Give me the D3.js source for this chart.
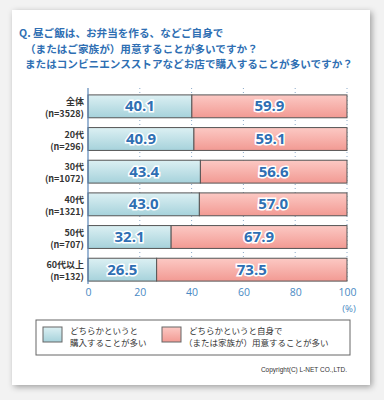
<!DOCTYPE html>
<html>
<head>
<meta charset="utf-8">
<script src="https://cdn.jsdelivr.net/npm/d3@7"></script>
<style>
  body { margin: 0; background: #f4f4f4; }
  svg { display: block; }
</style>
</head>
<body>
<svg id="chart" width="384" height="400"></svg>
<script>
// data
const groups = ["全体", "20代", "30代", "40代", "50代", "60代以上"];
const counts = ["(n=3528)", "(n=296)", "(n=1072)", "(n=1321)", "(n=707)", "(n=132)"];
const buy = [40.1, 40.9, 43.4, 43.0, 32.1, 26.5];
const self = [59.9, 59.1, 56.6, 57.0, 67.9, 73.5];
const ticks = [0, 20, 40, 60, 80, 100];
const titleLines = [
  "Q. 昼ご飯は、お弁当を作る、などご自身で",
  "（またはご家族が）用意することが多いですか？",
  "またはコンビニエンスストアなどお店で購入することが多いですか？"
];
const legendBuy = ["どちらかというと", "購入することが多い"];
const legendSelf = ["どちらかというと自身で", "（または家族が）用意することが多い"];

const font = "'Noto Sans CJK JP', 'Noto Sans', sans-serif";
const blue = "#2f6fb3";

const svg = d3.select("#chart");
const defs = svg.append("defs");

// shadow for the card
const f = defs.append("filter").attr("id", "sh").attr("x", "-10%").attr("y", "-10%").attr("width", "120%").attr("height", "120%");
f.append("feDropShadow").attr("dx", 2).attr("dy", 2).attr("stdDeviation", 3).attr("flood-color", "#000").attr("flood-opacity", 0.35);

function grad(id, c1, c2) {
  const g = defs.append("linearGradient").attr("id", id).attr("x1", 0).attr("y1", 0).attr("x2", 0).attr("y2", 1);
  g.append("stop").attr("offset", "0%").attr("stop-color", c1);
  g.append("stop").attr("offset", "100%").attr("stop-color", c2);
}
grad("gBlue", "#dcf0f3", "#a6d2db");
grad("gPink", "#fcc9c4", "#f29a93");

svg.append("rect").attr("x", 0).attr("y", 0).attr("width", 384).attr("height", 400).attr("fill", "#f2f2f2");
svg.append("rect")
  .attr("x", 12).attr("y", 10).attr("width", 358).attr("height", 375)
  .attr("fill", "#fff").attr("filter", "url(#sh)");

// title
svg.append("g").selectAll("text")
  .data(titleLines)
  .enter().append("text")
  .attr("x", (d, i) => i == 0 ? 19 : 25)
  .attr("y", (d, i) => 37 + i * 15.5)
  .attr("font-family", font).attr("font-size", 10.6).attr("font-weight", "bold")
  .attr("fill", blue)
  .text(d => d);

const x = d3.scaleLinear().domain([0, 100]).range([88, 347]);
const y = d3.scaleBand().domain(groups).range([90, 286]).paddingInner(0.3).paddingOuter(0.15);

// grid
svg.append("g").selectAll("line")
  .data(ticks.slice(1))
  .enter().append("line")
  .attr("x1", d => x(d)).attr("x2", d => x(d))
  .attr("y1", 88).attr("y2", 284)
  .attr("stroke", "#8aa9c8").attr("stroke-width", 1).attr("stroke-dasharray", "1,3");

// bars
const row = svg.append("g").selectAll("g")
  .data(groups)
  .enter().append("g");

row.append("rect")
  .attr("x", x(0))
  .attr("y", d => y(d))
  .attr("width", (d, i) => x(buy[i]) - x(0))
  .attr("height", y.bandwidth())
  .attr("fill", "url(#gBlue)").attr("stroke", "#555").attr("stroke-width", 1);

row.append("rect")
  .attr("x", (d, i) => x(buy[i]))
  .attr("y", d => y(d))
  .attr("width", (d, i) => x(100) - x(buy[i]))
  .attr("height", y.bandwidth())
  .attr("fill", "url(#gPink)").attr("stroke", "#555").attr("stroke-width", 1);

function valueText(sel, xf, vals) {
  sel.append("text")
    .attr("x", xf)
    .attr("y", d => y(d) + y.bandwidth() / 2 + 5)
    .attr("text-anchor", "middle")
    .attr("font-family", "'Open Sans', sans-serif").attr("font-size", 15).attr("font-weight", "bold")
    .attr("fill", blue).attr("stroke", "#fff").attr("stroke-width", 3).attr("paint-order", "stroke")
    .text((d, i) => vals[i].toFixed(1));
}
valueText(row, (d, i) => (x(0) + x(buy[i])) / 2, buy);
valueText(row, (d, i) => (x(buy[i]) + x(100)) / 2, self);

// category labels
row.append("text")
  .attr("x", 84).attr("y", d => y(d) + 10)
  .attr("text-anchor", "end")
  .attr("font-family", font).attr("font-size", 9).attr("font-weight", "bold").attr("fill", "#333")
  .text(d => d);
row.append("text")
  .attr("x", 84).attr("y", (d, i) => y(d) + 22)
  .attr("text-anchor", "end")
  .attr("font-family", font).attr("font-size", 9).attr("font-weight", "bold").attr("fill", "#333")
  .text((d, i) => counts[i]);

// axes
svg.append("line").attr("x1", x(0)).attr("x2", x(0)).attr("y1", 88).attr("y2", 284)
  .attr("stroke", "#5b86b8").attr("stroke-width", 1.2);

const xAxis = d3.axisBottom(x).tickValues(ticks).tickSize(0).tickPadding(5);
const ax = svg.append("g").attr("transform", "translate(0,284)").call(xAxis);
ax.select(".domain").remove();
ax.selectAll("text").attr("font-family", "'Open Sans', sans-serif").attr("font-size", 10.5).attr("fill", "#4a8ac4");
svg.append("text").attr("x", 349).attr("y", 312).attr("text-anchor", "middle")
  .attr("font-family", "'Open Sans', sans-serif").attr("font-size", 9.5).attr("fill", "#4a8ac4").text("(%)");

// legend
svg.append("rect").attr("x", 36).attr("y", 320).attr("width", 314).attr("height", 35)
  .attr("fill", "#fff").attr("stroke", "#666").attr("stroke-width", 1);
svg.append("rect").attr("x", 43).attr("y", 327).attr("width", 19).attr("height", 15)
  .attr("fill", "url(#gBlue)").attr("stroke", "#666");
svg.append("rect").attr("x", 162).attr("y", 327).attr("width", 19).attr("height", 15)
  .attr("fill", "url(#gPink)").attr("stroke", "#666");
svg.append("g").selectAll("text").data(legendBuy).enter().append("text")
  .attr("x", 70).attr("y", (d, i) => 334 + i * 12)
  .attr("font-family", font).attr("font-size", 8.5).attr("fill", "#333").text(d => d);
svg.append("g").selectAll("text").data(legendSelf).enter().append("text")
  .attr("x", (d, i) => i == 0 ? 189 : 184).attr("y", (d, i) => 334 + i * 12)
  .attr("font-family", font).attr("font-size", 8.5).attr("fill", "#333").text(d => d);

svg.append("text").attr("x", 347).attr("y", 372).attr("text-anchor", "end")
  .attr("font-family", "'Liberation Sans', sans-serif").attr("font-size", 6.5).attr("fill", "#333")
  .text("Copyright(C) L-NET CO.,LTD.");
</script>
</body>
</html>
